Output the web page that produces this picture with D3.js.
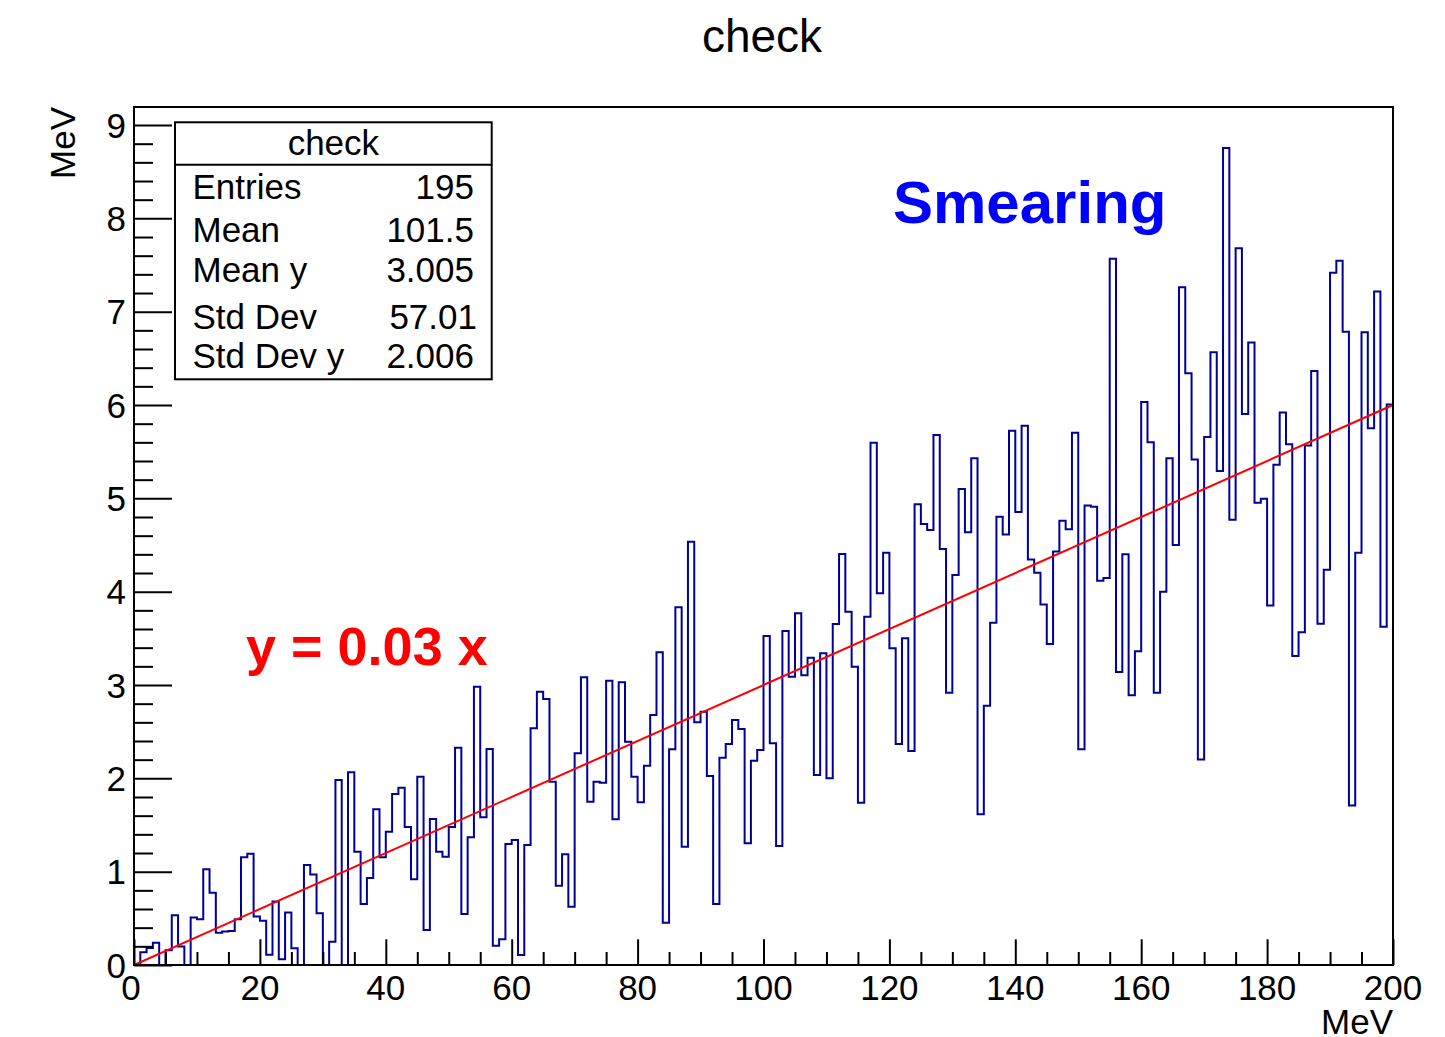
<!DOCTYPE html>
<html>
<head>
<meta charset="utf-8">
<script src="https://cdn.jsdelivr.net/npm/d3@7/dist/d3.min.js"></script>
<style>
  html, body { margin: 0; padding: 0; background: #fff; }
  svg { display: block; font-family: "Liberation Sans", Arial, Helvetica, sans-serif; }
</style>
</head>
<body>
<svg id="chart" width="1445" height="1037"></svg>
<script>
// Bin contents of the "check" histogram: 200 bins of width 1 MeV over [0, 200)
const binValues = [
  0, 0.136, 0.183, 0.239, 0, 0.157, 0.533, 0.198, 0, 0.508,
  0.49, 1.025, 0.775, 0.346, 0.36, 0.365, 0.49, 1.154, 1.193, 0.52,
  0.475, 0.11, 0.68, 0.062, 0.562, 0.18, 0, 1.071, 0.971, 0.554,
  0, 0.25, 1.982, 0, 2.064, 1.214, 0.654, 0.932, 1.668, 1.154,
  1.429, 1.832, 1.9, 1.479, 0.918, 2.018, 0.375, 1.564, 1.214, 1.161,
  1.479, 2.329, 0.546, 1.368, 2.982, 1.582, 2.314, 0.207, 0.275, 1.296,
  1.339, 0.107, 1.286, 2.536, 2.929, 2.85, 1.964, 0.85, 1.186, 0.625,
  2.268, 3.082, 1.75, 1.964, 1.954, 3.046, 1.561, 3.029, 2.393, 2.018,
  1.743, 2.136, 2.679, 3.35, 0.454, 2.311, 3.832, 1.268, 4.536, 2.6,
  2.714, 2.025, 0.654, 2.221, 2.368, 2.625, 2.529, 1.304, 2.189, 2.304,
  3.525, 2.375, 1.275, 3.579, 3.089, 3.768, 3.104, 3.293, 2.036, 3.339,
  2.0, 3.654, 4.404, 3.786, 3.196, 1.739, 3.732, 5.596, 3.982, 4.418,
  3.393, 2.368, 3.5, 2.293, 4.936, 4.725, 4.661, 5.679, 4.457, 2.918,
  4.179, 5.1, 4.636, 5.429, 1.614, 2.779, 3.668, 4.804, 4.613, 5.723,
  4.854, 5.778, 4.346, 4.202, 3.863, 3.439, 4.431, 4.761, 4.668, 5.702,
  2.312, 4.922, 4.91, 4.117, 4.147, 7.566, 3.139, 4.401, 2.889, 3.363,
  6.032, 5.6, 2.918, 3.999, 5.43, 4.499, 7.261, 6.34, 5.416, 2.202,
  5.656, 6.565, 5.292, 8.755, 4.771, 7.679, 5.905, 6.67, 4.953, 4.996,
  3.853, 5.359, 5.919, 5.579, 3.312, 3.566, 5.565, 6.364, 3.656, 4.235,
  7.416, 7.545, 6.785, 1.71, 4.417, 6.78, 5.752, 7.215, 3.623, 6.005
];
const binWidth = 1;
const xMin = 0, xMax = 200;

// Reference line y = slope * x
const slope = 0.03;
const lineX = [0, 200];

// Axis tick values and labels
const xMajorTicks = [0, 20, 40, 60, 80, 100, 120, 140, 160, 180, 200];
const xMinorStep = 5;
const yMajorTicks = [0, 1, 2, 3, 4, 5, 6, 7, 8, 9];
const yMinorStep = 0.2;

// Statistics box rows
const statLabels = ["Entries", "Mean", "Mean y", "Std Dev", "Std Dev y"];
const statValues = ["195", "101.5", "3.005", "57.01", "2.006"];

const svg = d3.select("#chart");
const frame = { left: 134, right: 1393, top: 107, bottom: 965 };

const x = d3.scaleLinear().domain([xMin, xMax]).range([frame.left, frame.right]);
const y = d3.scaleLinear().domain([0, 9.193]).range([frame.bottom, frame.top]);

// Title
svg.append("text")
  .attr("x", 762).attr("y", 52)
  .attr("text-anchor", "middle")
  .attr("font-size", 46)
  .text("check");

// Histogram outline (step shape, dropping to zero at both ends)
const pts = [[xMin, 0]];
binValues.forEach((v, i) => {
  pts.push([xMin + i * binWidth, v]);
  pts.push([xMin + (i + 1) * binWidth, v]);
});
pts.push([xMax, 0]);

svg.append("path")
  .attr("d", d3.line().x(d => x(d[0])).y(d => y(d[1]))(pts))
  .attr("fill", "none")
  .attr("stroke", "#000099")
  .attr("stroke-width", 2)
  .attr("stroke-linejoin", "miter");

// Red reference line
svg.append("path")
  .attr("d", d3.line().x(d => x(d)).y(d => y(slope * d))(lineX))
  .attr("fill", "none")
  .attr("stroke", "#ff0000")
  .attr("stroke-width", 2);

// Frame
svg.append("rect")
  .attr("x", frame.left).attr("y", frame.top)
  .attr("width", frame.right - frame.left)
  .attr("height", frame.bottom - frame.top)
  .attr("fill", "none")
  .attr("stroke", "#000")
  .attr("stroke-width", 2);

// X axis ticks (drawn inward)
const xMinor = d3.range(xMin, xMax + 0.001, xMinorStep).filter(v => v % 20 !== 0);
const xAxisMajor = d3.axisBottom(x).tickValues(xMajorTicks).tickSize(-25.7).tickFormat("");
const xAxisMinor = d3.axisBottom(x).tickValues(xMinor).tickSize(-13).tickFormat("");
[xAxisMajor, xAxisMinor].forEach(ax => {
  const g = svg.append("g").attr("transform", `translate(0,${frame.bottom})`).call(ax);
  g.select(".domain").remove();
  g.selectAll("line").attr("stroke", "#000").attr("stroke-width", 2);
});

// Y axis ticks (drawn inward)
const yMinor = d3.range(0, 9.0001, yMinorStep).filter(v => Math.abs(v - Math.round(v)) > 1e-6);
const yAxisMajor = d3.axisLeft(y).tickValues(yMajorTicks).tickSize(-38).tickFormat("");
const yAxisMinor = d3.axisLeft(y).tickValues(yMinor).tickSize(-19).tickFormat("");
[yAxisMajor, yAxisMinor].forEach(ax => {
  const g = svg.append("g").attr("transform", `translate(${frame.left},0)`).call(ax);
  g.select(".domain").remove();
  g.selectAll("line").attr("stroke", "#000").attr("stroke-width", 2);
});

// Tick labels
svg.append("g").selectAll("text")
  .data(xMajorTicks).join("text")
  .attr("x", d => x(d) - (d === 0 ? 3 : 0)).attr("y", 1000)
  .attr("text-anchor", "middle")
  .attr("font-size", 35)
  .text(d => d);

svg.append("g").selectAll("text")
  .data(yMajorTicks).join("text")
  .attr("x", 126).attr("y", d => y(d) + 12.5)
  .attr("text-anchor", "end")
  .attr("font-size", 35)
  .text(d => d);

// Axis titles
svg.append("text")
  .attr("x", frame.right).attr("y", 1034)
  .attr("text-anchor", "end")
  .attr("font-size", 35)
  .text("MeV");

svg.append("text")
  .attr("transform", `translate(75,${frame.top}) rotate(-90)`)
  .attr("text-anchor", "end")
  .attr("font-size", 35)
  .text("MeV");

// Statistics box
const box = { x0: 175, x1: 491.7, y0: 122.3, y1: 379.3, header: 164.7 };
svg.append("rect")
  .attr("x", box.x0).attr("y", box.y0)
  .attr("width", box.x1 - box.x0).attr("height", box.y1 - box.y0)
  .attr("fill", "#fff").attr("stroke", "#000").attr("stroke-width", 2);
svg.append("line")
  .attr("x1", box.x0).attr("x2", box.x1)
  .attr("y1", box.header).attr("y2", box.header)
  .attr("stroke", "#000").attr("stroke-width", 2);
svg.append("text")
  .attr("x", (box.x0 + box.x1) / 2).attr("y", 155)
  .attr("text-anchor", "middle").attr("font-size", 35)
  .text("check");

const rowBaselines = [199, 242, 282, 329, 368];
const valueRight = [474, 474, 474, 477, 474];
statLabels.forEach((lab, i) => {
  svg.append("text")
    .attr("x", 192.5).attr("y", rowBaselines[i])
    .attr("font-size", 35)
    .text(lab);
  svg.append("text")
    .attr("x", valueRight[i]).attr("y", rowBaselines[i])
    .attr("text-anchor", "end")
    .attr("font-size", 35)
    .text(statValues[i]);
});

// Annotations
svg.append("text")
  .attr("x", 893).attr("y", 223)
  .attr("font-size", 60).attr("font-weight", "bold")
  .attr("fill", "#0000ff")
  .text("Smearing");

svg.append("text")
  .attr("x", 246).attr("y", 665)
  .attr("font-size", 54).attr("font-weight", "bold")
  .attr("fill", "#ff0000")
  .text("y = 0.03 x");
</script>
</body>
</html>
